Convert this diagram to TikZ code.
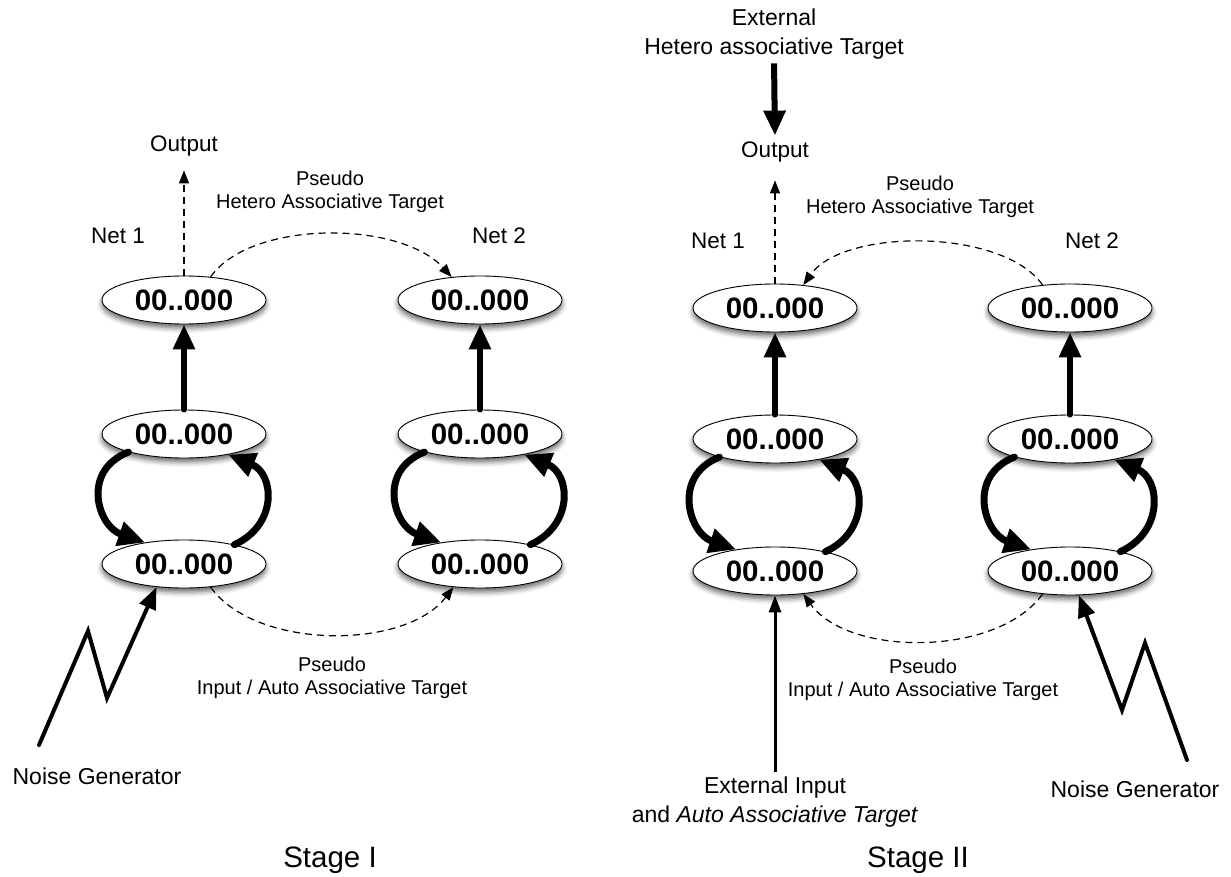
\documentclass[tikz,border=0pt]{standalone}
\usepackage{fontspec}
\setmainfont{Liberation Sans}
\usetikzlibrary{arrows.meta,shapes.geometric,shadows.blur}
\begin{document}
\begin{tikzpicture}[x=1pt,y=-1pt,
  unit/.style={ellipse,draw,line width=0.9pt,fill=white,
    minimum width=164pt,minimum height=48pt,inner sep=0pt,
    font=\fontsize{29.5}{29.5}\selectfont\bfseries,
    blur shadow={shadow xshift=0pt,shadow yshift=-4pt,shadow blur radius=5pt,shadow opacity=60}},
  lbl/.style={font=\fontsize{22.5}{26}\selectfont,inner sep=0pt,align=center},
  plbl/.style={font=\fontsize{20}{23}\selectfont,inner sep=0pt,align=center},
  blbl/.style={font=\fontsize{23}{29}\selectfont,inner sep=0pt,align=center},
  stage/.style={font=\fontsize{29.5}{32}\selectfont,inner sep=0pt},
  feed/.style={line width=6pt,line cap=round,-{Triangle[length=25pt,width=21pt]}},
  recur/.style={line width=7pt,line cap=round,-{Triangle[length=27pt,width=24pt]}},
  pseudo/.style={line width=1.2pt,dash pattern=on 7pt off 5pt,-{Triangle[length=13pt,width=10pt]}},
  noise/.style={line width=4pt,line cap=round,line join=miter,-{Triangle[length=22pt,width=17pt]}},
  ext/.style={line width=3pt,-{Triangle[length=17pt,width=12pt]}},
]
\useasboundingbox (0,0) rectangle (1231,877);

% ---------------- Stage I ----------------
\node[unit] (t1) at (184,300) {00..000};
\node[unit] (m1) at (184,434) {00..000};
\node[unit] (b1) at (184,564) {00..000};
\node[unit] (t2) at (480,300) {00..000};
\node[unit] (m2) at (480,434) {00..000};
\node[unit] (b2) at (480,564) {00..000};

\node[lbl] (net1a) at (118,236) {Net 1};
\node[lbl] (net2a) at (499,236) {Net 2};
\node[lbl] (out1) at (184,146) {Output};
\node[plbl] (ph1) at (330,192) {Pseudo\\Hetero Associative Target};
\node[plbl] (pi1) at (332,678) {Pseudo\\Input / Auto Associative Target};
\node[blbl] (ng1) at (97,776) {Noise Generator};
\node[stage] (st1) at (330,860) {Stage I};

\draw[feed] (m1.north) -- (t1.south);
\draw[feed] (m2.north) -- (t2.south);
\draw[recur] (m1.-162) .. controls +(-48,19) and +(-47,-16) .. (b1.151);
\draw[recur] (b1.21) .. controls +(44,-20) and +(46,19) .. (m1.-25);
\draw[recur] (m2.-162) .. controls +(-48,19) and +(-47,-16) .. (b2.151);
\draw[recur] (b2.21) .. controls +(44,-20) and +(46,19) .. (m2.-25);

\draw[pseudo,shorten >=14pt] (t1.north) -- (out1.south);
\draw[pseudo] (t1.41) .. controls +(40,-57) and +(-52,-57) .. (t2.141);
\draw[pseudo] (b1.-41) .. controls +(45,63) and +(-48,63) .. (b2.-139);

\coordinate (za) at (39,745);
\coordinate (zb) at (88,631);
\coordinate (zc) at (107,698);
\draw[noise] (za) -- (zb) -- (zc) -- (b1.-140);

% ---------------- Stage II ----------------
\node[unit] (t3) at (775,308) {00..000};
\node[unit] (m3) at (775,439) {00..000};
\node[unit] (b3) at (775,571) {00..000};
\node[unit] (t4) at (1070,308) {00..000};
\node[unit] (m4) at (1070,439) {00..000};
\node[unit] (b4) at (1070,571) {00..000};

\node[lbl] (net1b) at (718,241) {Net 1};
\node[lbl] (net2b) at (1092,241) {Net 2};
\node[lbl] (out2) at (775,152) {Output};
\node[blbl] (het) at (774,34) {External\\Hetero associative Target};
\node[plbl] (ph2) at (920,197) {Pseudo\\Hetero Associative Target};
\node[plbl] (pi2) at (923,680) {Pseudo\\Input / Auto Associative Target};
\node[blbl] (ein) at (775,802) {External Input\\and \textit{Auto Associative Target}};
\node[blbl] (ng2) at (1135,789) {Noise Generator};
\node[stage] (st2) at (918,860) {Stage II};

\draw[feed] (m3.north) -- (t3.south);
\draw[feed] (m4.north) -- (t4.south);
\draw[recur] (m3.-162) .. controls +(-48,19) and +(-47,-16) .. (b3.151);
\draw[recur] (b3.21) .. controls +(44,-20) and +(46,19) .. (m3.-25);
\draw[recur] (m4.-162) .. controls +(-48,19) and +(-47,-16) .. (b4.151);
\draw[recur] (b4.21) .. controls +(44,-20) and +(46,19) .. (m4.-25);

\draw[feed,line cap=butt,shorten <=4pt,shorten >=6pt] (het.south) -- (out2.north);
\draw[pseudo,shorten >=18pt] (t3.north) -- (out2.south);
\draw[pseudo] (t4.140) .. controls +(-40,-57) and +(40,-57) .. (t3.39);
\draw[pseudo] (b4.-140) .. controls +(-45,63) and +(45,63) .. (b3.-39);
\draw[ext,shorten <=5pt] (ein.north) -- (b3.south);

\coordinate (zd) at (1187,760);
\coordinate (ze) at (1145,643);
\coordinate (zf) at (1122,710);
\draw[noise] (zd) -- (ze) -- (zf) -- (b4.-70);
\end{tikzpicture}
\end{document}
